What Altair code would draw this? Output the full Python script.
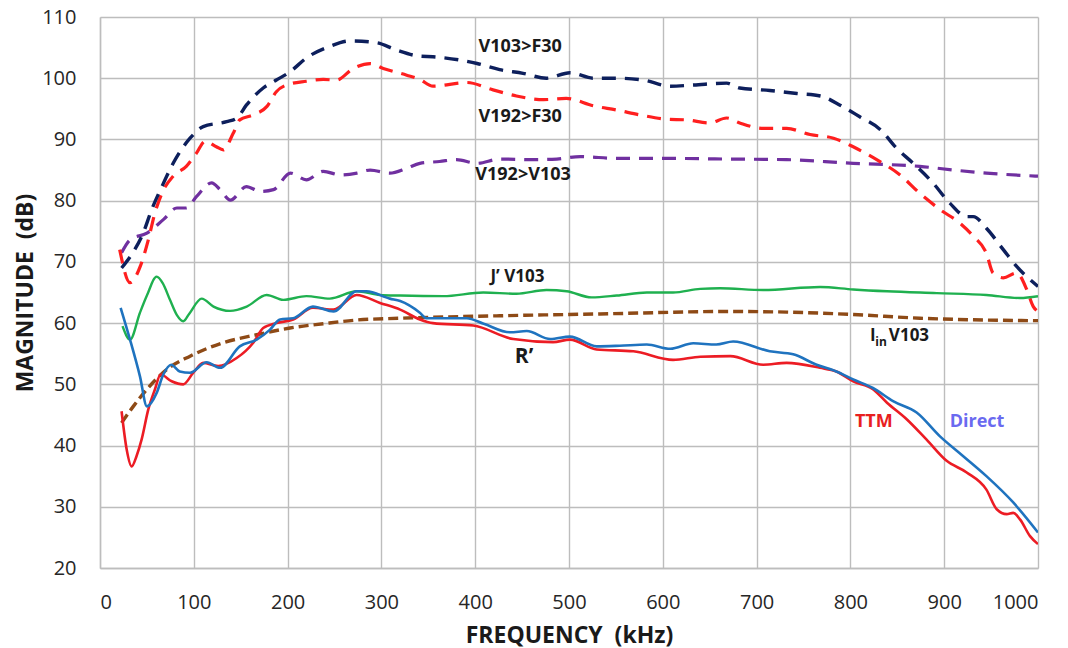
import altair as alt
import pandas as pd

# ---- data ----
v103_f30_f = [23, 35, 46, 55, 66, 78, 96, 110, 135, 146, 156, 174, 188, 203, 220, 245, 267, 295, 316, 341, 355, 402, 426, 451, 476, 501, 526, 551, 579, 608, 633, 668, 682, 714, 743, 768, 789, 810, 832, 849, 867, 888, 906, 924, 931, 945, 963, 977, 1000]
v103_f30_v = [69, 71.5, 74.7, 78.5, 82.3, 86.1, 90.2, 92.1, 92.9, 93.5, 95.6, 98.4, 99.7, 101.1, 103.3, 105.2, 106.1, 105.8, 104.6, 103.6, 103.5, 102.4, 101.4, 100.8, 100, 100.9, 100, 100, 99.7, 98.7, 98.9, 99.2, 98.4, 98, 97.5, 97.1, 95.6, 93.7, 91.6, 88.6, 86.1, 82.9, 79.6, 77.4, 77.4, 75.5, 72, 69.3, 66]

v192_f30_f = [21, 32, 43, 51.5, 58.6, 66, 78, 92, 103, 112, 124, 131.5, 142, 149, 163, 178, 188, 199, 220, 238, 252, 270, 288, 302, 327, 341, 355, 391, 419, 444, 473, 497, 526, 551, 576, 604, 625, 650, 668, 682, 707, 732, 757, 782, 803, 828, 853, 874, 896, 917, 931, 945, 952, 963, 977, 988, 995, 1000]
v192_f30_v = [72, 66.6, 69.3, 73.6, 78, 81.2, 84, 85.6, 87.8, 89.7, 88.8, 88.3, 91, 93.2, 94, 95.4, 97.8, 98.9, 99.5, 99.8, 99.7, 101.6, 102.4, 101.6, 100.5, 99.8, 98.7, 99.3, 98.1, 97.1, 96.5, 96.7, 95.5, 94.8, 94, 93.3, 93.2, 92.7, 93.5, 92.7, 91.8, 91.8, 90.8, 90.2, 88.8, 86.7, 84.2, 81.2, 78.5, 76.3, 74.2, 71.4, 68.2, 67.4, 68.2, 65.5, 62.7, 61.9]

v192_v103_f = [23, 32, 50, 67.5, 82, 92, 103, 119, 128, 139, 156, 171, 185, 203, 220, 238, 256, 274, 288, 309, 327, 341, 362, 380, 402, 426, 462, 487, 512, 551, 604, 668, 732, 803, 839, 874, 910, 945, 1000]
v192_v103_v = [71.5, 73.6, 74.7, 76.9, 78.8, 78.8, 80.7, 82.9, 81.8, 80.1, 82.3, 81.5, 81.8, 84.5, 83.4, 84.8, 84.2, 84.5, 85, 84.5, 85.3, 86.1, 86.4, 86.7, 86.1, 86.8, 86.7, 86.8, 87.2, 86.9, 86.9, 86.8, 86.7, 86.1, 85.9, 85.6, 85, 84.5, 84.0]

jv103_f = [24, 32, 42.6, 50, 60.4, 67, 74.6, 82, 88.8, 95, 108.4, 121, 138.6, 156.4, 177.7, 195.4, 220, 245, 273.6, 298.5, 320, 366, 408.6, 444, 476, 497.5, 524, 551, 583, 611, 640, 661, 707, 767.6, 803, 839, 892, 945, 980.8, 1000]
jv103_v = [59.5, 57.3, 61.7, 64.5, 67.6, 66.5, 63.8, 61.3, 60.3, 61.5, 64, 62.7, 62, 62.7, 64.6, 63.8, 64.4, 64, 65.2, 64.6, 64.5, 64.4, 65, 64.8, 65.4, 65.2, 64.2, 64.5, 65, 65, 65.6, 65.7, 65.4, 65.9, 65.5, 65.2, 64.9, 64.6, 64.1, 64.4]

iin_f = [23, 35.5, 50, 71, 96, 131.5, 167, 202.5, 238, 273.6, 320, 426, 533, 672, 732, 803, 874, 945, 1000]
iin_v = [43.7, 46.4, 49.2, 52.4, 54.6, 56.8, 58.1, 59.2, 59.9, 60.5, 60.8, 61.2, 61.5, 61.9, 61.8, 61.4, 60.8, 60.5, 60.4]

direct_f = [22, 32, 42.6, 50, 60.4, 67.5, 76, 85, 96, 113.7, 128, 149, 167, 181, 192, 206, 227, 249, 273.6, 284, 309, 320, 341, 348, 391, 409, 437, 455, 480, 501, 529.5, 554, 583, 608, 632.5, 657, 675, 714, 739, 764, 785, 803, 824, 846, 870.6, 895.5, 920, 945, 973.6, 1000]
direct_v = [62.5, 57.3, 51.3, 46.4, 48.6, 51.6, 53.2, 52.1, 51.9, 53.6, 52.7, 56.2, 57.3, 58.9, 60.6, 60.8, 62.7, 61.9, 65.2, 65.2, 64, 63.6, 61.7, 60.8, 60.8, 59.9, 58.5, 58.7, 57.4, 57.8, 56.2, 56.3, 56.5, 55.8, 56.7, 56.5, 57, 55.4, 54.9, 53.2, 52.1, 50.8, 49.4, 47.2, 45.4, 41.5, 38.3, 35, 30.7, 25.8]

ttm_f = [23, 28.4, 33.7, 39, 44.4, 51.5, 58.6, 64.6, 76.4, 88.8, 99.5, 110, 126, 145.7, 163.4, 174, 188, 206, 227, 249, 273.6, 298.5, 320, 341, 355, 398, 440.6, 483, 501, 529.5, 568.6, 611, 640, 672, 707, 732, 767.6, 785, 803, 824, 839, 860, 881, 902.6, 924, 945, 956, 966.6, 973.6, 981, 991.5, 1000]
ttm_v = [45.6, 39.4, 36.6, 38.3, 41, 45.9, 49.2, 51.6, 50.5, 50, 51.9, 53.5, 53, 54.3, 56.8, 59.2, 60, 60.6, 62.5, 62.2, 64.6, 63.3, 62.2, 60.6, 60, 59.6, 57.4, 56.9, 57.3, 55.7, 55.4, 54, 54.5, 54.6, 53.2, 53.5, 52.7, 52.1, 50.5, 49.2, 47, 44.3, 41, 37.5, 35.6, 32.8, 29.6, 28.8, 29, 27.9, 25.2, 23.9]

x_ticks = [0, 100, 200, 300, 400, 500, 600, 700, 800, 900, 1000]
y_ticks = [20, 30, 40, 50, 60, 70, 80, 90, 100, 110]

FONT = "Open Sans"
W, H = 938, 551
NB = "\u00a0"

series = [
    # name, f, v, color, dash, width
    ("V192>V103", v192_v103_f, v192_v103_v, "#7030a0", [14, 9], 3.2),
    ("V192>F30", v192_f30_f, v192_f30_v, "#ff1f1f", [14, 9], 3.2),
    ("V103>F30", v103_f30_f, v103_f30_v, "#0d1f5c", [14, 9], 3.4),
    ("IinV103", iin_f, iin_v, "#8e4a16", [10, 5], 3.4),
    ("J'V103", jv103_f, jv103_v, "#1fb04f", None, 2.4),
    ("TTM", ttm_f, ttm_v, "#ec1c24", None, 2.6),
    ("Direct", direct_f, direct_v, "#1f73bf", None, 2.6),
]

xscale = alt.Scale(domain=[0, 1000], nice=False, zero=False)
yscale = alt.Scale(domain=[20, 110], nice=False, zero=False)

layers = []
first = True
for name, f, v, color, dash, width in series:
    df = pd.DataFrame({"f": f, "v": v})
    mk = dict(color=color, strokeWidth=width, interpolate="monotone", clip=True)
    if dash:
        mk["strokeDash"] = dash
    if first:
        xenc = alt.X("f:Q", scale=xscale,
                     axis=alt.Axis(values=x_ticks, format="d",
                                   title="FREQUENCY" + NB + NB + "(kHz)",
                                   titleX=W / 2, titleY=67, titleBaseline="middle",
                                   labelPadding=24))
        yenc = alt.Y("v:Q", scale=yscale,
                     axis=alt.Axis(values=y_ticks, format="d",
                                   title="MAGNITUDE" + NB + NB + "(dB)",
                                   titleX=-75, titleY=H / 2, titleAngle=-90,
                                   titleBaseline="middle", labelPadding=24))
        first = False
    else:
        xenc = alt.X("f:Q", scale=xscale)
        yenc = alt.Y("v:Q", scale=yscale)
    layers.append(alt.Chart(df).mark_line(**mk).encode(x=xenc, y=yenc))

# annotations: text, f, v, size, color, align, baseline
labels = [
    ("V103>F30", 448, 105.1, 18, "#1a1a1a", "center", "middle"),
    ("V192>F30", 448, 93.7, 18, "#1a1a1a", "center", "middle"),
    ("V192>V103", 451, 84.2, 18, "#1a1a1a", "center", "middle"),
    ("J\u2019 V103", 445, 67.6, 17, "#1a1a1a", "center", "middle"),
    ("R\u2019", 452, 54.4, 21, "#1a1a1a", "center", "middle"),
    ("TTM", 825, 43.8, 18, "#e8201f", "center", "middle"),
    ("Direct", 935, 43.8, 18, "#6a6af0", "center", "middle"),
    ("I", 821, 57.0, 17, "#1a1a1a", "left", "alphabetic"),
    ("in", 826.5, 56.2, 12, "#1a1a1a", "left", "alphabetic"),
    ("V103", 841, 57.0, 17, "#1a1a1a", "left", "alphabetic"),
]
for text, lx, ly, size, color, align, base in labels:
    layers.append(
        alt.Chart(pd.DataFrame({"a": [0]})).mark_text(
            text=text, font=FONT, fontSize=size, fontWeight="bold",
            color=color, align=align, baseline=base
        ).encode(x=alt.datum(lx, scale=xscale), y=alt.datum(ly, scale=yscale))
    )

chart = alt.layer(*layers).properties(
    width=W, height=H,
    autosize=alt.AutoSizeParams(type="none"),
    padding={"left": 100, "top": 17, "right": 30, "bottom": 80},
    background="white",
).configure_view(stroke=None).configure_axis(
    grid=True, gridColor="#bdbdbd", gridWidth=1.4,
    domainColor="#bdbdbd", domainWidth=1.4,
    ticks=False, labelFont=FONT, labelFontSize=20, labelColor="#262626",
    titleFont=FONT, titleFontSize=23, titleFontWeight="bold", titleColor="#1a1a1a",
)

chart.save("out.html", embed_options={"renderer": "svg", "actions": False})
